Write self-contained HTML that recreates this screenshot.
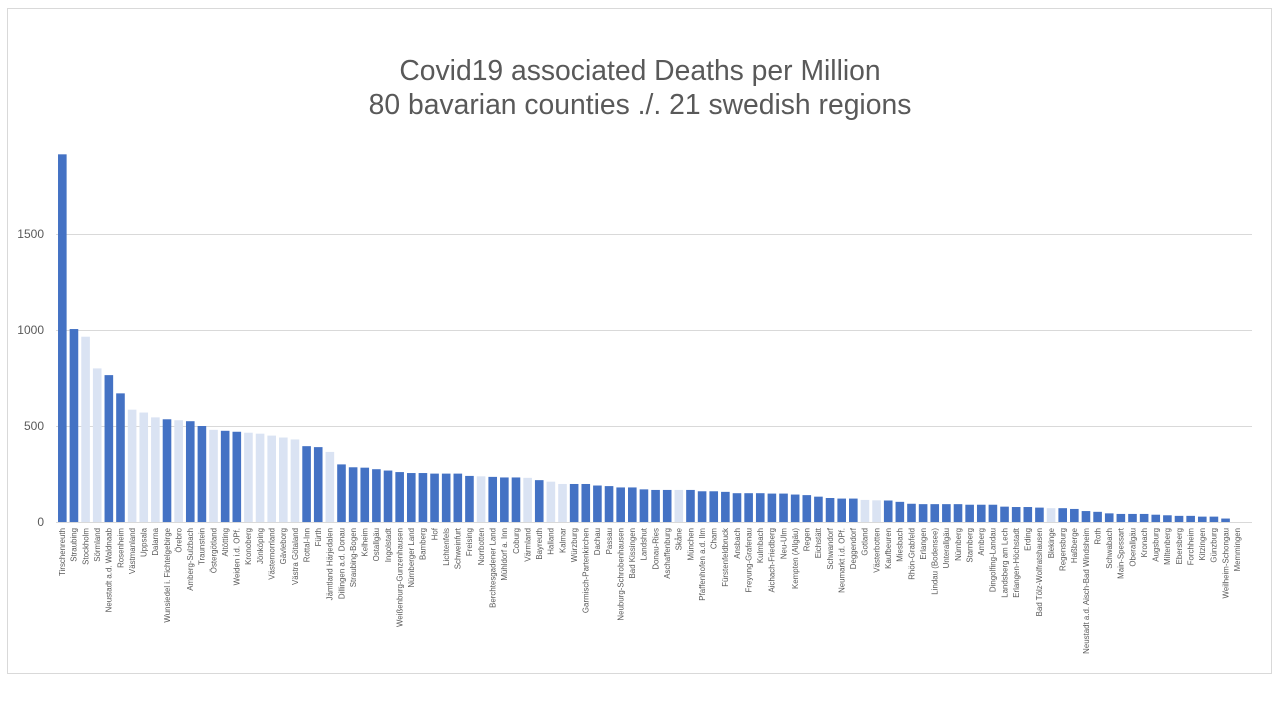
<!DOCTYPE html>
<html><head><meta charset="utf-8"><style>
body{margin:0;background:#fff;}
svg{display:block;font-family:"Liberation Sans",sans-serif;}
</style></head><body>
<svg id="chart" width="1280" height="720">
<rect x="7.5" y="8.5" width="1264" height="665" fill="#fff" stroke="#d9d9d9"/>
<text x="640" y="80" text-anchor="middle" font-size="28.3" fill="#595959">Covid19 associated Deaths per Million</text>
<text x="640" y="114" text-anchor="middle" font-size="28.3" fill="#595959">80 bavarian counties ./. 21 swedish regions</text>
<g id="grid"></g><g id="bars"></g><g id="xlabels"></g>
</svg>
<script>
const categories=["Tirschenreuth","Straubing","Stockholm","Sörmland","Neustadt a.d. Waldnaab","Rosenheim","Västmanland","Uppsala","Dalarna","Wunsiedel i. Fichtelgebirge","Örebro","Amberg-Sulzbach","Traunstein","Östergötland","Altötting","Weiden i.d. OPf.","Kronoberg","Jönköping","Västernorrland","Gävleborg","Västra Götaland","Rottal-Inn","Fürth","Jämtland Härjedalen","Dillingen a.d. Donau","Straubing-Bogen","Kelheim","Ostallgäu","Ingolstadt","Weißenburg-Gunzenhausen","Nürnberger Land","Bamberg","Hof","Lichtenfels","Schweinfurt","Freising","Norrbotten","Berchtesgadener Land","Mühldorf a. Inn","Coburg","Värmland","Bayreuth","Halland","Kalmar","Würzburg","Garmisch-Partenkirchen","Dachau","Passau","Neuburg-Schrobenhausen","Bad Kissingen","Landshut","Donau-Ries","Aschaffenburg","Skåne","München","Pfaffenhofen a.d. Ilm","Cham","Fürstenfeldbruck","Ansbach","Freyung-Grafenau","Kulmbach","Aichach-Friedberg","Neu-Ulm","Kempten (Allgäu)","Regen","Eichstätt","Schwandorf","Neumarkt i.d. OPf.","Deggendorf","Gotland","Västerbotten","Kaufbeuren","Miesbach","Rhön-Grabfeld","Erlangen","Lindau (Bodensee)","Unterallgäu","Nürnberg","Starnberg","Amberg","Dingolfing-Landau","Landsberg am Lech","Erlangen-Höchstadt","Erding","Bad Tölz-Wolfratshausen","Blekinge","Regensburg","Haßberge","Neustadt a.d. Aisch-Bad Windsheim","Roth","Schwabach","Main-Spessart","Oberallgäu","Kronach","Augsburg","Miltenberg","Ebersberg","Forchheim","Kitzingen","Günzburg","Weilheim-Schongau","Memmingen"];
const values=[1915,1005,965,800,765,670,585,570,545,535,530,525,500,480,475,470,465,460,450,440,430,395,390,365,300,285,283,275,268,260,255,255,252,252,252,240,238,235,232,232,230,218,210,198,198,198,190,187,180,180,170,167,167,167,167,160,160,157,150,150,150,148,148,143,140,132,125,122,122,115,113,112,105,95,93,93,93,93,90,90,90,80,78,78,75,72,72,68,57,53,45,42,42,42,38,35,32,32,28,28,18,0];
const regionType=["B","B","S","S","B","B","S","S","S","B","S","B","B","S","B","B","S","S","S","S","S","B","B","S","B","B","B","B","B","B","B","B","B","B","B","B","S","B","B","B","S","B","S","S","B","B","B","B","B","B","B","B","B","S","B","B","B","B","B","B","B","B","B","B","B","B","B","B","B","S","S","B","B","B","B","B","B","B","B","B","B","B","B","B","B","S","B","B","B","B","B","B","B","B","B","B","B","B","B","B","B","B"];
const yTicks=[0,500,1000,1500];
const NS="http://www.w3.org/2000/svg";
const x0=56.5,x1=1243,y0=522,k=288/1500;
const step=(x1-x0)/categories.length;
const xs=i=>x0+step*(i+0.5);
const ys=v=>y0-v*k;
const grid=document.getElementById('grid'),bars=document.getElementById('bars'),xl=document.getElementById('xlabels');
yTicks.forEach(t=>{
 const l=document.createElementNS(NS,'line');
 l.setAttribute('x1',56);l.setAttribute('x2',1252);l.setAttribute('y1',ys(t)+0.5);l.setAttribute('y2',ys(t)+0.5);
 l.setAttribute('stroke','#d9d9d9');l.setAttribute('stroke-width','1');
 
 
 grid.appendChild(l);
 const tx=document.createElementNS(NS,'text');
 tx.setAttribute('x',44);tx.setAttribute('y',ys(t)+4);tx.setAttribute('text-anchor','end');
 tx.setAttribute('font-size','12');tx.setAttribute('fill','#595959');tx.textContent=t;
 
 
 grid.appendChild(tx);
});
categories.forEach((c,i)=>{
 const r=document.createElementNS(NS,'rect');
 const w=step*0.74;
 r.setAttribute('x',xs(i)-w/2);r.setAttribute('width',w);
 r.setAttribute('y',ys(values[i]));r.setAttribute('height',values[i]*k);
 r.setAttribute('fill',regionType[i]==='B'?'#4472c4':'#dae3f3');
 
 
 bars.appendChild(r);
 const t=document.createElementNS(NS,'text');
 t.setAttribute('transform',`translate(${xs(i)+2.8},528) rotate(-90)`);
 t.setAttribute('text-anchor','end');t.setAttribute('font-size','7.9');t.setAttribute('fill','#595959');
 t.textContent=c;
 
 
 xl.appendChild(t);
});
</script>
</body></html>
